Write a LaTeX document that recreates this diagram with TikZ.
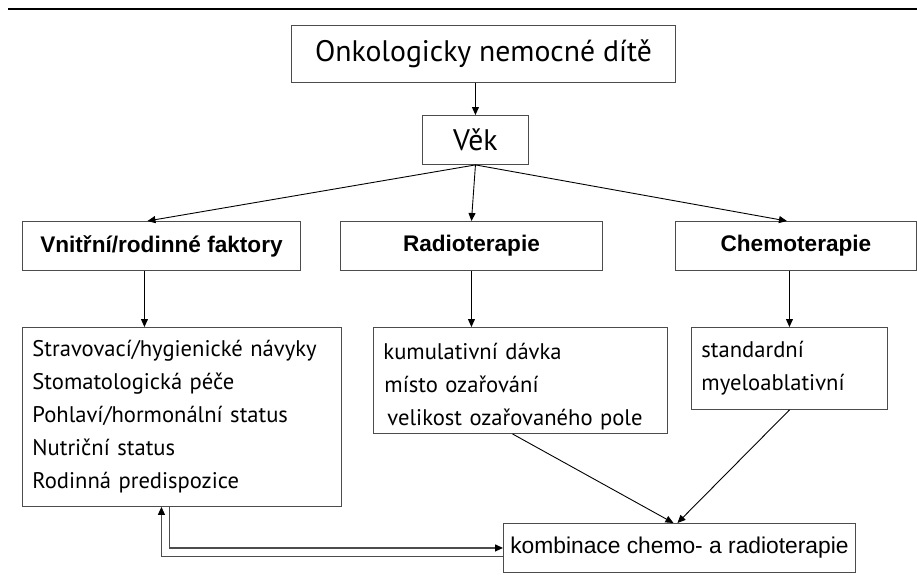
\documentclass[tikz,border=0pt]{standalone}
\usepackage{fontspec}
\setmainfont{PT Sans}
\newfontfamily\arialfont{Liberation Sans}
\usetikzlibrary{arrows.meta}
\tikzset{
  box/.style={draw=black!70, line width=0.9pt, anchor=north west, inner sep=0pt},
  titlebox/.style={box, font=\fontsize{29.7}{34}\selectfont},
  headbox/.style={box, font=\arialfont\bfseries\fontsize{22.6}{27}\selectfont},
  listbox/.style={box, align=left, inner xsep=10pt, font=\fontsize{22.6}{33}\selectfont},
  arr/.style={-{Triangle[length=8pt,width=7pt]}, line width=0.9pt},
  backarr/.style={-{Triangle[length=8pt,width=7pt,color=black]}, draw=black!70, line width=1.2pt}
}
\begin{document}
\begin{tikzpicture}[x=1pt,y=-1pt]
  \useasboundingbox (0,0) rectangle (917,581);
  \draw[line width=2.2pt] (8,9) -- (917,9);
  % boxes
  \node[titlebox, minimum width=384pt, minimum height=57pt] (child) at (291,25) {Onkologicky nemocné dítě};
  \node[titlebox, minimum width=106pt, minimum height=49pt] (vek) at (422,115) {Věk};
  \node[headbox, minimum width=278pt, minimum height=49pt] (vnitrni) at (22,221) {Vnitřní/rodinné faktory};
  \node[headbox, minimum width=262pt, minimum height=49pt] (radio) at (340,221) {Radioterapie};
  \node[headbox, minimum width=241pt, minimum height=49pt] (chemo) at (675,221) {Chemoterapie};
  \node[listbox, text width=299pt, minimum height=179pt] (faktory) at (22,327) {Stravovací/hygienické návyky\\Stomatologická péče\\Pohlaví/hormonální status\\Nutriční status\\Rodinná predispozice};
  \node[listbox, text width=274pt, minimum height=106pt] (davka) at (373,327) {\rule{0pt}{29pt}kumulativní dávka\\\hspace*{1pt}místo ozařování\\\hspace*{4pt}velikost ozařovaného pole};
  \node[listbox, text width=176pt, minimum height=82pt] (rezim) at (691,327) {standardní\\myeloablativní};
  \node[box, font=\arialfont\fontsize{22.8}{27}\selectfont, minimum width=352pt, minimum height=49pt] (kombi) at (503,523) {kombinace chemo- a radioterapie};
  % connectors
  \draw[arr] (child.south -| vek.north) -- (vek.north);
  \foreach \t/\dx in {vnitrni/-14, radio/0, chemo/-9} {%
    \draw[arr] (vek.south) -- ([xshift=\dx pt]\t.north);
  }
  \draw[arr] ([xshift=-17pt]vnitrni.south) -- ([xshift=-17pt]vnitrni.south |- faktory.north);
  \draw[arr] (radio.south) -- (radio.south |- davka.north);
  \draw[arr] (rezim.north |- chemo.south) -- (rezim.north);
  \draw[arr] ([xshift=-8pt]davka.south) -- ([xshift=-6pt]kombi.north);
  \draw[arr] (rezim.south) -- ([xshift=-2pt]kombi.north);
  \draw[backarr] ([xshift=-12.5pt]faktory.south) |- (kombi.west);
  \draw[backarr] ([yshift=-8.5pt]kombi.west) -| ([xshift=-20.5pt]faktory.south);
\end{tikzpicture}
\end{document}
